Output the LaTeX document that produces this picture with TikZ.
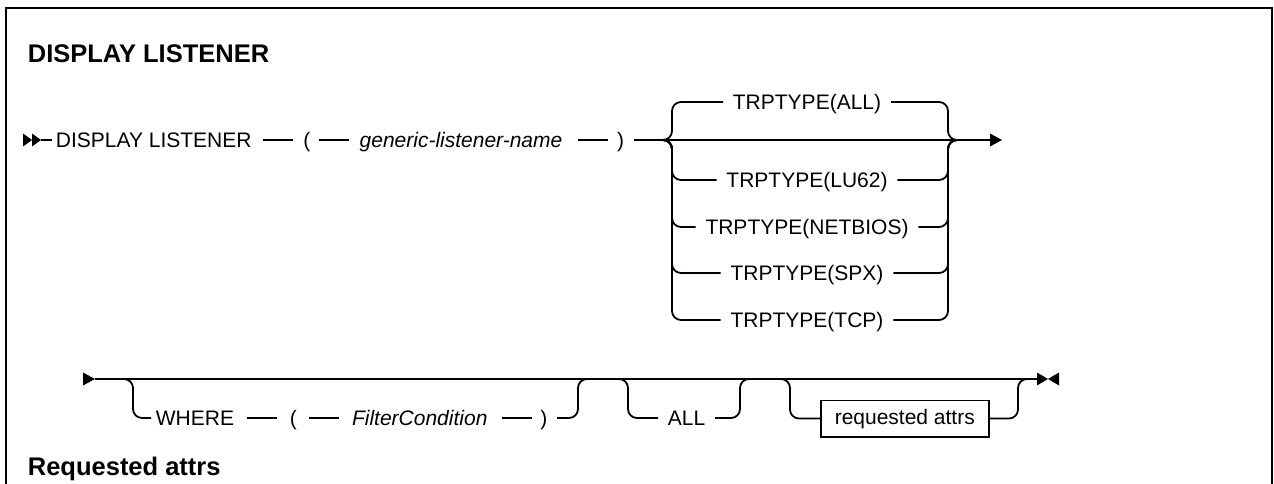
\documentclass[tikz,border=0pt]{standalone}
\usepackage{fontspec}
\setmainfont{Liberation Sans}
\usetikzlibrary{positioning}
\begin{document}
\begin{tikzpicture}[x=1pt,y=-1pt,line width=1.8pt,
  lbl/.style={inner sep=0pt, anchor=west, text height=16.5pt, text depth=2pt, font=\fontsize{21}{24}\selectfont},
  vbl/.style={lbl, font=\fontsize{21}{24}\selectfont\itshape},
  ttl/.style={inner sep=0pt, anchor=west, font=\fontsize{25.5}{30}\selectfont\bfseries},
  rc/.style={rounded corners=9pt},
  boxn/.style={draw, line width=1.5pt, inner xsep=14pt, inner ysep=8pt, text height=16pt, text depth=4.5pt, font=\fontsize{21}{24}\selectfont, anchor=west},
  tipf/.style={fill=black, draw=none}
]
\useasboundingbox (0,0) rectangle (1274,484);
% frame
\draw[line width=2pt] (6,484) -- (6,8) -- (1272,8) -- (1272,484);
% headings
\node[ttl] (title) at (27,54) {DISPLAY LISTENER};
\node[ttl, anchor=base west] (req) at (27,475) {Requested attrs};

% ---------- row 1 ----------
\fill[tipf] (23,133.5) -- (32,140) -- (23,146.5) -- cycle;
\fill[tipf] (32,133.5) -- (41,140) -- (32,146.5) -- cycle;
\coordinate (s1) at (41,140);
\coordinate (e1) at (990,140);
\fill[tipf] (990,133.5) -- (1002,140) -- (990,146.5) -- cycle;

\node[lbl] (DL) at (55,140) {DISPLAY LISTENER};
\node[lbl, right=50pt of DL] (lp1) {(};
\node[vbl, right=47.5pt of lp1] (gln) {generic-listener-name};
\node[lbl, right=53pt of gln] (rp1) {)};
\draw (s1) -- ([xshift=-3pt]DL.west);
\draw ([xshift=11pt]DL.east) -- ([xshift=-9pt]lp1.west);
\draw ([xshift=8pt]lp1.east) -- ([xshift=-9.5pt]gln.west);
\draw ([xshift=15pt]gln.east) -- ([xshift=-8pt]rp1.west);
\draw ([xshift=9pt]rp1.east) -- (e1);

\coordinate (jL) at (662,140);
\coordinate (jR) at (958,140);
\foreach \n/\t/\yy in {ta/ALL/102, tb/LU62/180, tc/NETBIOS/227, td/SPX/273, te/TCP/320}{
  \node[lbl, anchor=center] (\n) at (807,\yy) {TRPTYPE(\t)};
  \draw[rc] (jL) -- ++(10,0) |- ([xshift=-9pt]\n.west);
  \draw[rc] ([xshift=9pt]\n.east) -| ([xshift=-10pt]jR) -- (jR);
}

% ---------- row 2 ----------
\fill[tipf] (83,372.5) -- (95,379) -- (83,385.5) -- cycle;
\coordinate (s2) at (95,379);
\coordinate (e2) at (1037,379);
\fill[tipf] (1037,372.5) -- (1048,379) -- (1037,385.5) -- cycle;
\fill[tipf] (1059,372.5) -- (1048,379) -- (1059,385.5) -- cycle;
\draw (s2) -- (e2);

% WHERE branch
\coordinate (wa) at (123,379);
\coordinate (wb) at (588,379);
\node[lbl] (wh) at (155,418) {WHERE};
\node[lbl, right=54pt of wh] (lp2) {(};
\node[vbl, right=53.4pt of lp2] (fc) {FilterCondition};
\node[lbl, right=51pt of fc] (rp2) {)};
\draw ([xshift=12pt]wh.east) -- ([xshift=-12pt]lp2.west);
\draw ([xshift=11pt]lp2.east) -- ([xshift=-12.4pt]fc.west);
\draw ([xshift=14pt]fc.east) -- ([xshift=-7pt]rp2.west);
\draw[rc] (wa) -- ++(10,0) |- ([xshift=-4pt]wh.west);
\draw[rc] ([xshift=9pt]rp2.east) -| ([xshift=-10pt]wb) -- (wb);

% ALL branch
\coordinate (aa) at (618,379);
\coordinate (ab) at (750,379);
\node[lbl] (al) at (667,418) {ALL};
\draw[rc] (aa) -- ++(10,0) |- ([xshift=-9pt]al.west);
\draw[rc] ([xshift=9pt]al.east) -| ([xshift=-10pt]ab) -- (ab);

% requested attrs branch
\coordinate (ba) at (780,379);
\coordinate (bb) at (1028,379);
\node[boxn] (ra) at (820,418.5) {requested attrs};
\draw[rc] (ba) -- ++(10,0) |- (ra.west);
\draw[rc] (ra.east) -| ([xshift=-10pt]bb) -- (bb);
\end{tikzpicture}
\end{document}
